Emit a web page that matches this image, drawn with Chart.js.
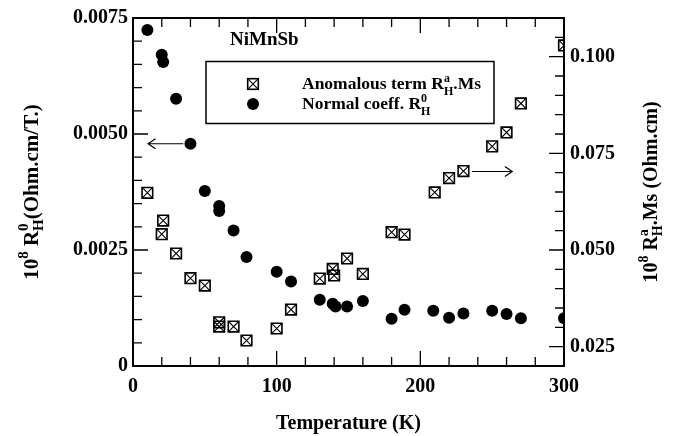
<!DOCTYPE html>
<html>
<head>
<meta charset="utf-8">
<title>NiMnSb Hall coefficients</title>
<script src="https://cdn.jsdelivr.net/npm/chart.js@4.4.1/dist/chart.umd.min.js"></script>
<style>
  html, body { margin: 0; padding: 0; background: #fff; }
  #wrap { width: 690px; height: 436px; }
</style>
</head>
<body>
<div id="wrap"><canvas id="hallChart" width="690" height="436"></canvas></div>
<script>
// Normal coefficient R_H^0 (left axis)
const normalTemps = [10, 20, 21, 30, 40, 50, 60, 60, 70, 79, 100, 110, 130, 139, 141, 149, 160, 180, 189, 209, 220, 230, 250, 260, 270, 300];
const normalCoeff = [0.00724, 0.00671, 0.00655, 0.00576, 0.00479, 0.00377, 0.00345, 0.00334, 0.00292, 0.00235, 0.00203, 0.00182, 0.00143, 0.00134, 0.00128, 0.00128, 0.00140, 0.00102, 0.00121, 0.00119, 0.00104, 0.00113, 0.00119, 0.00112, 0.00103, 0.00103];

// Anomalous term R_H^a.Ms (right axis)
const anomTemps = [10, 21, 20, 30, 40, 50, 60, 60, 70, 79, 100, 110, 130, 139, 140, 149, 160, 180, 189, 210, 220, 230, 250, 260, 270, 300];
const anomTerm = [0.0648, 0.0576, 0.0541, 0.0491, 0.0427, 0.0408, 0.0313, 0.0302, 0.0302, 0.0266, 0.0297, 0.0346, 0.0426, 0.0451, 0.0434, 0.0478, 0.0438, 0.0546, 0.0540, 0.0649, 0.0686, 0.0704, 0.0768, 0.0804, 0.0879, 0.1029];

// Axes
const xTicks = [0, 100, 200, 300];
const leftTicks = [0, 0.0025, 0.0050, 0.0075];
const rightTicks = [0.025, 0.050, 0.075, 0.100];

// Arrows pointing to the axis each series belongs to: [x0, y0, x1, y1] in data units
const leftArrow = [35, 0.00479, 10.5, 0.00479];
const rightArrow = [236, 0.0703, 264, 0.0703];

const SERIF = "'Liberation Serif', 'DejaVu Serif', serif";

function richWidth(ctx, parts) {
    let w = 0;
    parts.forEach(p => {
        ctx.font = `bold ${p.size}px ${SERIF}`;
        if (p.stack) {
            w += Math.max(ctx.measureText(p.sup).width, ctx.measureText(p.sub).width);
        } else {
            w += ctx.measureText(p.text).width;
        }
    });
    return w;
}

// text pieces with stacked super/subscripts
function drawRich(ctx, x, y, parts) {
    ctx.textBaseline = 'alphabetic';
    ctx.textAlign = 'left';
    parts.forEach(p => {
        ctx.font = `bold ${p.size}px ${SERIF}`;
        if (p.stack) {
            ctx.fillText(p.sup, x, y + p.supDy);
            ctx.fillText(p.sub, x, y + p.subDy);
            x += Math.max(ctx.measureText(p.sup).width, ctx.measureText(p.sub).width);
        } else {
            ctx.fillText(p.text, x, y + (p.dy || 0));
            x += ctx.measureText(p.text).width;
        }
    });
}

const leftTitle = [
    { text: '10', size: 21 },
    { text: '8', size: 15, dy: -10 },
    { text: ' ', size: 21 },
    { text: 'R', size: 21 },
    { stack: true, sup: '0', sub: 'H', size: 15, supDy: -10, subDy: 5 },
    { text: '(Ohm.cm/T.)', size: 21 }
];
const rightTitle = [
    { text: '10', size: 20 },
    { text: '8', size: 14, dy: -9 },
    { text: ' ', size: 20 },
    { text: 'R', size: 20 },
    { stack: true, sup: 'a', sub: 'H', size: 14, supDy: -9, subDy: 5 },
    { text: '.Ms (Ohm.cm)', size: 20 }
];
const legendAnom = [
    { text: 'Anomalous term R', size: 17.5 },
    { stack: true, sup: 'a', sub: 'H', size: 12, supDy: -7, subDy: 6 },
    { text: '.Ms', size: 17.5 }
];
const legendNormal = [
    { text: 'Normal coeff. R', size: 17.5 },
    { stack: true, sup: '0', sub: 'H', size: 12, supDy: -7, subDy: 6 }
];

function drawArrow(ctx, x0, y0, x1, y1) {
    const ang = Math.atan2(y1 - y0, x1 - x0);
    ctx.beginPath();
    ctx.moveTo(x0, y0);
    ctx.lineTo(x1, y1);
    ctx.moveTo(x1 - 9 * Math.cos(ang - 0.6), y1 - 9 * Math.sin(ang - 0.6));
    ctx.lineTo(x1, y1);
    ctx.lineTo(x1 - 9 * Math.cos(ang + 0.6), y1 - 9 * Math.sin(ang + 0.6));
    ctx.stroke();
}

// boxed cross marker for the legend (same look as rect + crossRot points)
function drawBoxCross(ctx, x, y, r) {
    const h = r * Math.SQRT1_2;
    ctx.lineWidth = 1.6;
    ctx.strokeRect(x - h, y - h, 2 * h, 2 * h);
    ctx.lineWidth = 1.1;
    ctx.beginPath();
    ctx.moveTo(x - h, y - h); ctx.lineTo(x + h, y + h);
    ctx.moveTo(x + h, y - h); ctx.lineTo(x - h, y + h);
    ctx.stroke();
}

// frame, inward ticks, legend, labels
const decorPlugin = {
    id: 'decor',
    afterDraw(chart) {
        const ctx = chart.ctx;
        const a = chart.chartArea;
        const sx = chart.scales.x, sy = chart.scales.y, sy1 = chart.scales.y1;
        ctx.save();
        ctx.strokeStyle = '#000';
        ctx.fillStyle = '#000';

        // ticks
        ctx.lineWidth = 1.3;
        ctx.beginPath();
        for (let i = 0; i <= 15; i++) {
            const px = sx.getPixelForValue(i * 20);
            const len = i % 5 === 0 ? 15 : 9;
            ctx.moveTo(px, a.bottom); ctx.lineTo(px, a.bottom - len);
            ctx.moveTo(px, a.top); ctx.lineTo(px, a.top + len);
        }
        for (let i = 0; i <= 15; i++) {
            const py = sy.getPixelForValue(i * 0.0005);
            const len = i % 5 === 0 ? 15 : 9;
            ctx.moveTo(a.left, py); ctx.lineTo(a.left + len, py);
        }
        for (let i = 5; i <= 21; i++) {
            const py = sy1.getPixelForValue(i * 0.005);
            const len = i % 5 === 0 ? 15 : 9;
            ctx.moveTo(a.right, py); ctx.lineTo(a.right - len, py);
        }
        ctx.stroke();

        // frame
        ctx.lineWidth = 2;
        ctx.strokeRect(a.left, a.top, a.right - a.left, a.bottom - a.top);

        // arrows
        ctx.lineWidth = 1.2;
        drawArrow(ctx, sx.getPixelForValue(leftArrow[0]), sy.getPixelForValue(leftArrow[1]),
            sx.getPixelForValue(leftArrow[2]), sy.getPixelForValue(leftArrow[3]));
        drawArrow(ctx, sx.getPixelForValue(rightArrow[0]), sy1.getPixelForValue(rightArrow[1]),
            sx.getPixelForValue(rightArrow[2]), sy1.getPixelForValue(rightArrow[3]));

        // sample name
        ctx.font = `bold 19px ${SERIF}`;
        ctx.textAlign = 'left';
        ctx.textBaseline = 'alphabetic';
        ctx.fillText('NiMnSb', 230, 45);

        // legend
        ctx.lineWidth = 1.5;
        ctx.strokeRect(206, 61.5, 288, 62);
        drawBoxCross(ctx, 253, 84, 7.5);
        ctx.beginPath();
        ctx.arc(253, 104, 6, 0, Math.PI * 2);
        ctx.fill();
        drawRich(ctx, 302, 88.5, legendAnom);
        drawRich(ctx, 302, 108.5, legendNormal);

        // y axis titles
        const midY = (a.top + a.bottom) / 2;
        ctx.save();
        ctx.translate(38, midY);
        ctx.rotate(-Math.PI / 2);
        drawRich(ctx, -richWidth(ctx, leftTitle) / 2, 0, leftTitle);
        ctx.restore();

        ctx.save();
        ctx.translate(657, midY);
        ctx.rotate(-Math.PI / 2);
        drawRich(ctx, -richWidth(ctx, rightTitle) / 2, 0, rightTitle);
        ctx.restore();

        ctx.restore();
    }
};

const tickFont = { family: SERIF, size: 20, weight: 'bold' };
const anomPoints = anomTemps.map((t, i) => ({ x: t, y: anomTerm[i] }));

new Chart(document.getElementById('hallChart'), {
    type: 'scatter',
    data: {
        datasets: [
            {
                label: 'Anomalous term (box)',
                data: anomPoints,
                yAxisID: 'y1',
                pointStyle: 'rect',
                pointRadius: 7.5,
                borderWidth: 1.6,
                borderColor: '#000',
                backgroundColor: 'rgba(255,255,255,0)',
                clip: 0
            },
            {
                label: 'Anomalous term (cross)',
                data: anomPoints,
                yAxisID: 'y1',
                pointStyle: 'crossRot',
                pointRadius: 7.5,
                borderWidth: 1.1,
                borderColor: '#000',
                clip: 0
            },
            {
                label: 'Normal coeff.',
                data: normalTemps.map((t, i) => ({ x: t, y: normalCoeff[i] })),
                yAxisID: 'y',
                pointStyle: 'circle',
                pointRadius: 6,
                borderWidth: 0,
                backgroundColor: '#000',
                borderColor: '#000',
                clip: 0
            }
        ]
    },
    options: {
        responsive: false,
        animation: false,
        devicePixelRatio: 1,
        layout: { padding: { top: 12, left: 0, right: 0, bottom: 0 } },
        plugins: {
            legend: { display: false },
            tooltip: { enabled: false }
        },
        scales: {
            x: {
                type: 'linear',
                position: 'bottom',
                min: 0,
                max: 300,
                afterBuildTicks: s => { s.ticks = xTicks.map(v => ({ value: v })); },
                afterFit: s => { s.height = 70; },
                grid: { display: false, drawTicks: false },
                border: { display: false },
                ticks: { padding: 9, color: '#000', font: tickFont, autoSkip: false, maxRotation: 0 },
                title: {
                    display: true,
                    text: 'Temperature (K)',
                    color: '#000',
                    font: { family: SERIF, size: 20, weight: 'bold' },
                    padding: { top: 0, bottom: 0 }
                }
            },
            y: {
                type: 'linear',
                position: 'left',
                min: 0,
                max: 0.0075,
                afterBuildTicks: s => { s.ticks = leftTicks.map(v => ({ value: v })); },
                afterFit: s => { s.width = 133; },
                grid: { display: false, drawTicks: false },
                border: { display: false },
                ticks: {
                    padding: 5, color: '#000', font: tickFont, autoSkip: false,
                    callback: v => v === 0 ? '0' : v.toFixed(4)
                }
            },
            y1: {
                type: 'linear',
                position: 'right',
                min: 0.02,
                max: 0.11,
                afterBuildTicks: s => { s.ticks = rightTicks.map(v => ({ value: v })); },
                afterFit: s => { s.width = 126; },
                grid: { display: false, drawTicks: false },
                border: { display: false },
                ticks: {
                    padding: 6, color: '#000', font: tickFont, autoSkip: false,
                    callback: v => v.toFixed(3)
                }
            }
        }
    },
    plugins: [decorPlugin]
});
</script>
</body>
</html>
